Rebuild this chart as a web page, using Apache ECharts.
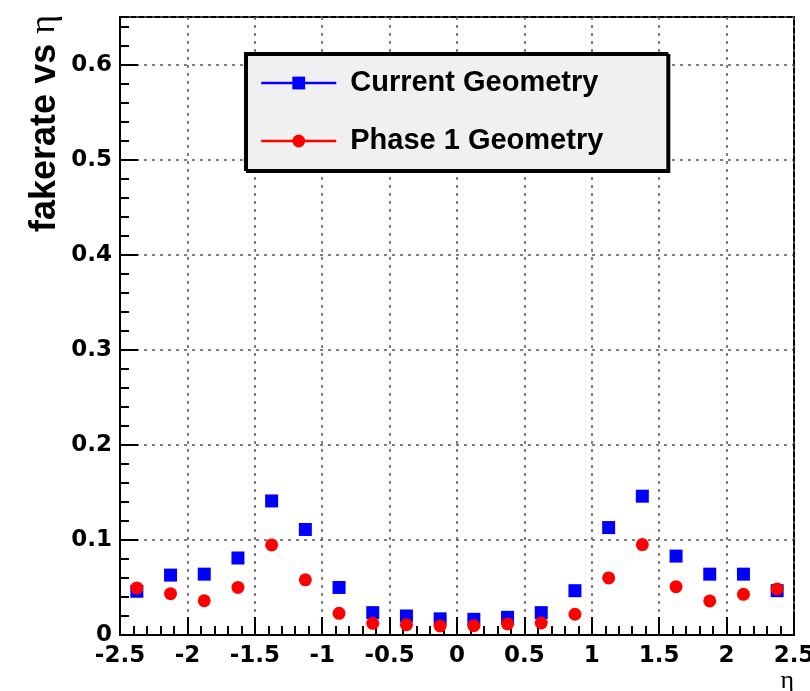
<!DOCTYPE html>
<html>
<head>
<meta charset="utf-8">
<script src="https://cdn.jsdelivr.net/npm/echarts@6/dist/echarts.min.js"></script>
<style>
  html, body { margin: 0; padding: 0; background: #fff; }
  #chart { width: 810px; height: 691px; }
</style>
</head>
<body>
<div id="chart"></div>
<script>
// ---- data ----
const etaBins = [-2.375, -2.125, -1.875, -1.625, -1.375, -1.125, -0.875, -0.625, -0.375, -0.125,
                  0.125, 0.375, 0.625, 0.875, 1.125, 1.375, 1.625, 1.875, 2.125, 2.375];
const currentGeometry = [0.046, 0.063, 0.064, 0.081, 0.141, 0.111, 0.050, 0.0235, 0.020, 0.017,
                         0.0165, 0.0186, 0.0235, 0.0466, 0.113, 0.146, 0.083, 0.064, 0.064, 0.0466];
const phase1Geometry = [0.0495, 0.0435, 0.036, 0.050, 0.0947, 0.058, 0.0228, 0.0123, 0.0108, 0.0095,
                        0.0098, 0.0116, 0.0126, 0.0218, 0.060, 0.0951, 0.0508, 0.0358, 0.0428, 0.0484];
const seriesNames = ['Current Geometry', 'Phase 1 Geometry'];
const xTickLabels = ['-2.5', '-2', '-1.5', '-1', '-0.5', '0', '0.5', '1', '1.5', '2', '2.5'];
const yTickLabels = ['0', '0.1', '0.2', '0.3', '0.4', '0.5', '0.6'];
const xTitle = 'η';
const yTitle = 'fakerate vs ';

const pairs = (ys) => etaBins.map((x, i) => [x, ys[i]]);
const fmt = (labels) => (v) => {
  const s = labels.find(l => Math.abs(parseFloat(l) - v) < 1e-9);
  return s === undefined ? '' : s;
};

const chart = echarts.init(document.getElementById('chart'), null, { renderer: 'canvas' });
const gridLine = { show: true, lineStyle: { color: '#555', type: [3, 5], width: 1.5 } };
const labelFont = { fontFamily: 'DejaVu Sans', fontWeight: 'bold', fontSize: 23, color: '#000' };

chart.setOption({
  animation: false,
  backgroundColor: '#fff',
  grid: {
    left: 120, right: 16, top: 17, bottom: 56,
    show: true, borderColor: '#000', borderWidth: 2, backgroundColor: 'transparent',
    outerBoundsMode: 'none'
  },
  legend: {
    orient: 'vertical',
    left: 245, top: 53,
    padding: [15, 64, 14, 15],
    itemWidth: 75, itemHeight: 16, itemGap: 28,
    backgroundColor: '#f0f0f0',
    borderColor: '#000', borderWidth: 2,
    shadowColor: '#000', shadowBlur: 0, shadowOffsetX: 2, shadowOffsetY: 2,
    selectedMode: false,
    textStyle: {
      fontFamily: 'Liberation Sans', fontWeight: 'bold', fontSize: 29, color: '#000',
      lineHeight: 30, padding: [0, 0, 0, 9]
    },
    data: [
      { name: seriesNames[0], lineStyle: { color: '#0000ff', width: 2.5, opacity: 1, type: 'solid' } },
      { name: seriesNames[1], lineStyle: { color: '#ff0000', width: 2.5, opacity: 1, type: 'solid' } }
    ]
  },
  xAxis: {
    type: 'value', min: -2.5, max: 2.5, interval: 0.5,
    name: xTitle, nameLocation: 'end', nameGap: 0, nameMoveOverlap: false,
    nameTextStyle: { fontFamily: 'Liberation Serif', fontSize: 26, color: '#000',
                     align: 'right', verticalAlign: 'top', padding: [33, 0, 0, 0] },
    axisLine: { show: true, onZero: false, lineStyle: { color: '#000', width: 2 } },
    axisTick: { show: true, inside: true, length: 18, lineStyle: { color: '#000', width: 2 } },
    minorTick: { show: true, splitNumber: 5, length: 9, lineStyle: { color: '#000', width: 2 } },
    axisLabel: Object.assign({ margin: 10, showMinLabel: true, showMaxLabel: true,
                               formatter: fmt(xTickLabels) }, labelFont),
    splitLine: gridLine
  },
  yAxis: [{
    type: 'value', min: 0, max: 0.65, interval: 0.1, position: 'left',
    name: '{a|' + yTitle + '}{b|η}', nameLocation: 'end', nameRotate: 90, nameGap: 2,
    nameMoveOverlap: false,
    nameTextStyle: {
      align: 'right', verticalAlign: 'bottom', padding: [0, 0, 57, 0],
      rich: {
        a: { fontFamily: 'Liberation Sans', fontWeight: 'bold', fontSize: 36, color: '#000', lineHeight: 36 },
        b: { fontFamily: 'Liberation Serif', fontSize: 36, color: '#000', lineHeight: 36 }
      }
    },
    axisLine: { show: true, onZero: false, lineStyle: { color: '#000', width: 2 } },
    axisTick: { show: true, inside: true, length: 18, lineStyle: { color: '#000', width: 2 } },
    axisLabel: Object.assign({ margin: 8, showMaxLabel: false, formatter: fmt(yTickLabels) }, labelFont),
    splitLine: gridLine
  }, {
    type: 'value', min: 0, max: 0.65, interval: 0.02, position: 'left', offset: 0,
    axisLine: { show: false, onZero: false },
    axisTick: { show: true, inside: true, length: 9, lineStyle: { color: '#000', width: 2 } },
    axisLabel: { show: false },
    splitLine: { show: false }
  }],
  series: [{
    name: seriesNames[0], type: 'line', yAxisIndex: 0,
    data: pairs(currentGeometry),
    symbol: 'rect', symbolSize: 13, showSymbol: true, showAllSymbol: true,
    lineStyle: { opacity: 0, width: 0 },
    itemStyle: { color: '#0000ff' },
    emphasis: { disabled: true }, silent: true, z: 3
  }, {
    name: seriesNames[1], type: 'line', yAxisIndex: 0,
    data: pairs(phase1Geometry),
    symbol: 'circle', symbolSize: 13, showSymbol: true, showAllSymbol: true,
    lineStyle: { opacity: 0, width: 0 },
    itemStyle: { color: '#ff0000' },
    emphasis: { disabled: true }, silent: true, z: 4
  }]
});
</script>
</body>
</html>
